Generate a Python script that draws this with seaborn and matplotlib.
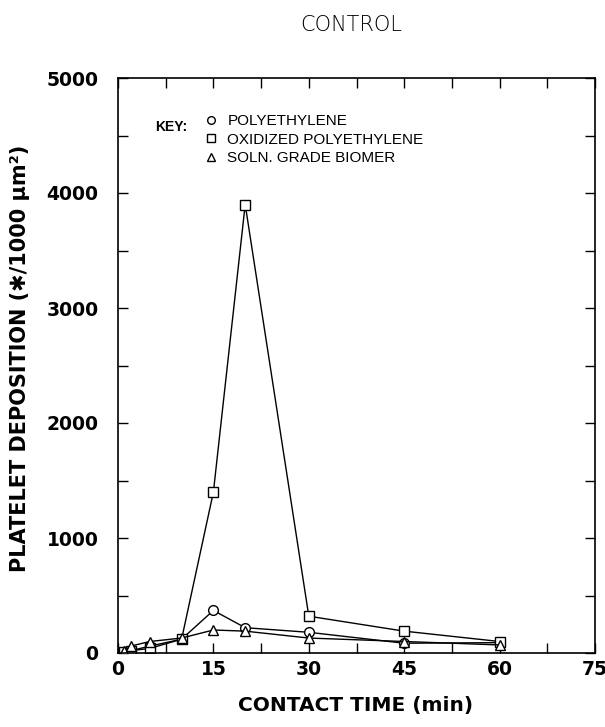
import matplotlib
matplotlib.use("Agg")
import matplotlib.pyplot as plt
import matplotlib.ticker as mticker
from matplotlib.lines import Line2D
import seaborn as sns
import pandas as pd

# ---- data ----
times = [1, 2, 5, 10, 15, 20, 30, 45, 60]
materials = ["POLYETHYLENE", "OXIDIZED POLYETHYLENE", "SOLN. GRADE BIOMER"]
polyethylene = [10, 20, 60, 120, 370, 220, 180, 85, 90]
oxidized_pe = [10, 20, 40, 120, 1400, 3900, 320, 190, 100]
biomer = [20, 60, 100, 130, 200, 190, 130, 100, 70]
x_ticks = [0, 15, 30, 45, 60, 75]
y_ticks = [0, 1000, 2000, 3000, 4000, 5000]

rows = []
for name, vals in zip(materials, [polyethylene, oxidized_pe, biomer]):
    for t, v in zip(times, vals):
        rows.append({"time": t, "dep": v, "material": name})
df = pd.DataFrame(rows)

sns.set_theme(style="ticks")
plt.rcParams["font.family"] = ["DejaVu Sans"]
for k in ["text.color", "axes.labelcolor", "xtick.color", "ytick.color", "axes.edgecolor"]:
    plt.rcParams[k] = "black"

fig = plt.figure(figsize=(6.05, 7.27), dpi=100)
ax = fig.add_axes([118 / 605, 1 - 653 / 727, (595 - 118) / 605, (653 - 78) / 727])

marker_map = {materials[0]: "o", materials[1]: "s", materials[2]: "^"}
sns.lineplot(data=df, x="time", y="dep", style="material", markers=marker_map,
             dashes=False, color="black", linewidth=1.0, markersize=7,
             markerfacecolor="white", markeredgecolor="black", markeredgewidth=1.0,
             legend=False, ax=ax, sort=False)

ax.set_xlim(0, 75)
ax.set_ylim(0, 5000)
ax.xaxis.set_major_locator(mticker.FixedLocator(x_ticks))
ax.xaxis.set_minor_locator(mticker.MultipleLocator(7.5))
ax.yaxis.set_major_locator(mticker.FixedLocator(y_ticks))
ax.yaxis.set_minor_locator(mticker.MultipleLocator(500))
ax.tick_params(which="both", direction="in", top=True, right=True,
               length=7, width=1.0, color="black")
ax.tick_params(which="major", labelsize=13.5, labelcolor="black")
ax.tick_params(axis="y", which="major", pad=14)
ax.tick_params(axis="x", which="major", pad=5)
for lab in ax.get_xticklabels() + ax.get_yticklabels():
    lab.set_fontweight("bold")
for sp in ax.spines.values():
    sp.set_linewidth(1.2)
    sp.set_color("black")
    sp.set_visible(True)

ax.set_xlabel("")
ax.set_ylabel("")
fig.text(356 / 605, 1 - 706 / 727, "CONTACT TIME (min)", ha="center", va="center",
         fontsize=14.5, fontweight="bold", color="black")
fig.text(20 / 605, 1 - 358 / 727, "PLATELET DEPOSITION (\u2731/1000 \u00b5m\u00b2)",
         ha="center", va="center", rotation=90, fontsize=15, fontweight="bold",
         color="black", family=["DejaVu Sans"])
fig.text(351 / 605, 1 - 25 / 727, "CONTROL", ha="center", va="center",
         fontsize=15, fontweight="light", color="black")

# key
fig.text(155 / 605, 1 - 127 / 727, "KEY:", ha="left", va="center", fontsize=10,
         fontweight="bold", color="black", family=["Liberation Sans"])
handles = [Line2D([], [], linestyle="none", marker=marker_map[m], markersize=5.5,
                  markerfacecolor="white", markeredgecolor="black", markeredgewidth=1.0)
           for m in materials]
leg = ax.legend(handles, materials, loc="upper left",
                bbox_to_anchor=(203 / 605, 1 - 114 / 727), bbox_transform=fig.transFigure,
                frameon=False, handlelength=1.0, handletextpad=0.6, labelspacing=0.3,
                borderaxespad=0, borderpad=0, prop={"family": "Liberation Sans", "size": 11})
for t in leg.get_texts():
    t.set_color("black")

fig.savefig("out.png", dpi=100)
